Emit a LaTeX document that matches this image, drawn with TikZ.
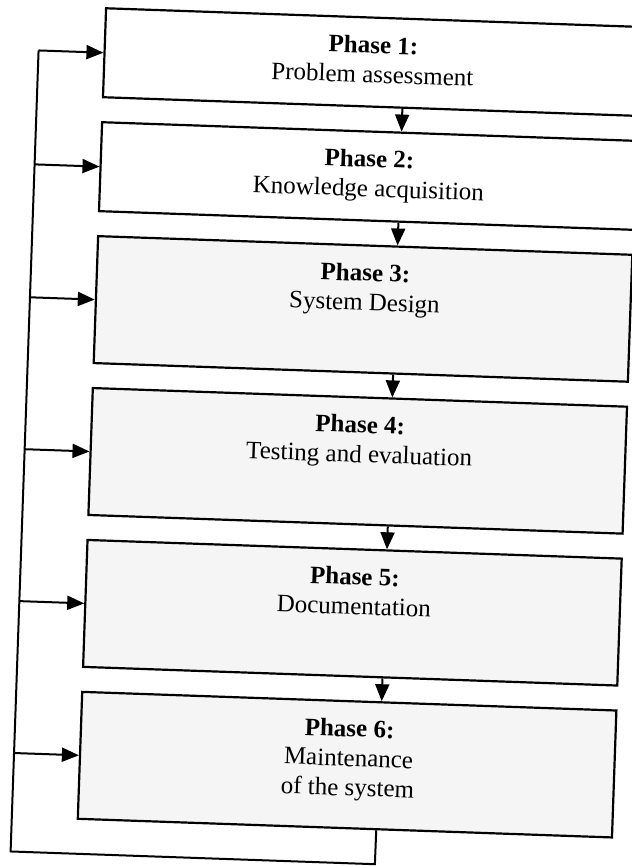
\documentclass[tikz,border=0pt]{standalone}
\usepackage{fontspec}
\setmainfont{Liberation Serif}
\usetikzlibrary{arrows.meta,calc}

\tikzset{
  phase/.style={draw, line width=2.2pt, fill=white, minimum width=534.5pt, inner sep=0pt},
  shaded/.style={fill=black!4},
  phasetext/.style={anchor=north, align=center, inner sep=0pt, font=\fontsize{25}{29.5}\selectfont},
  arr/.style={line width=2pt, -{Triangle[length=17pt,width=14pt]}},
  backline/.style={line width=2pt}
}

\begin{document}
\begin{tikzpicture}[x=1pt, y=-1pt]
\useasboundingbox (0,0) rectangle (631,866);
\begin{scope}[rotate around={-2:(320,430)}, transform shape]
    % phase boxes
    \node[phase, minimum height=89pt]  (p1) at (358.75,60.5) {};
    \node[phase, minimum height=89pt]  (p2) at (358.75,174.5) {};
    \node[phase, shaded, minimum height=127pt] (p3) at (358.75,307.5) {};
    \node[phase, shaded, minimum height=127pt] (p4) at (358.75,459.5) {};
    \node[phase, shaded, minimum height=127pt] (p5) at (358.75,611.5) {};
    \node[phase, shaded, minimum height=127pt] (p6) at (358.75,763.5) {};
    % texts
    \node[phasetext] (t1) at (360,34)  {\textbf{Phase 1:}\\Problem assessment};
    \node[phasetext] (t2) at (360,148) {\textbf{Phase 2:}\\Knowledge acquisition};
    \node[phasetext] (t3) at (360,262) {\textbf{Phase 3:}\\System Design};
    \node[phasetext] (t4) at (360,414) {\textbf{Phase 4:}\\Testing and evaluation};
    \node[phasetext] (t5) at (360,566) {\textbf{Phase 5:}\\Documentation};
    \node[phasetext] (t6) at (360,718) {\textbf{Phase 6:}\\Maintenance\\of the system};
    % flow down
    \foreach \a/\b in {p1/p2,p2/p3,p3/p4,p4/p5,p5/p6}
        \draw[arr] ($(\a.south west)!0.5603!(\a.south east)$) -- ($(\b.north west)!0.5603!(\b.north east)$);
    % feedback loop
    \foreach \i/\y in {1/60.5,2/174.5,3/307.5,4/459.5,5/611.5,6/763.5}
        \coordinate (f\i) at (25.5,\y);
    \coordinate (br) at (390,862);
    \coordinate (bl) at (25.5,862);
    \draw[backline] ($(p6.south west)!0.5585!(p6.south east)$) -- (br) -- (bl) -- (f1);
    \foreach \i in {1,...,6}
        \draw[arr] (f\i) -- (p\i.west);
\end{scope}
\end{tikzpicture}
\end{document}
